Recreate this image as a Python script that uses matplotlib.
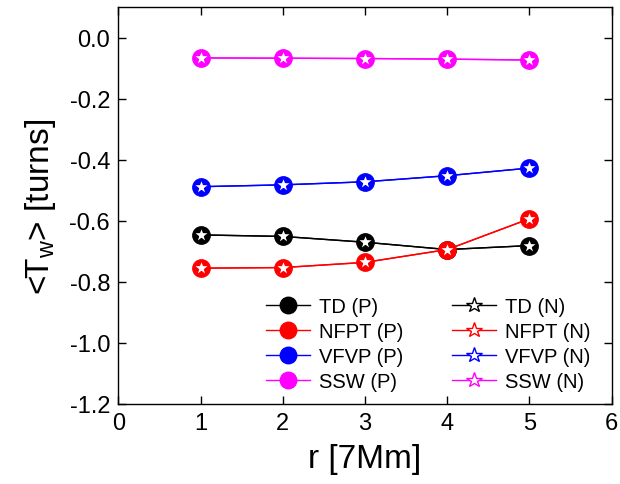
import matplotlib
matplotlib.use("Agg")
import matplotlib.pyplot as plt

plt.rcParams["font.family"] = ["Liberation Sans", "DejaVu Sans"]
plt.rcParams["mathtext.fontset"] = "custom"
plt.rcParams["mathtext.rm"] = "Liberation Sans"
plt.rcParams["mathtext.it"] = "Liberation Sans:italic"

# ---- data ----
r = [1, 2, 3, 4, 5]

td_p = [-0.646, -0.651, -0.670, -0.694, -0.681]
td_n = [-0.646, -0.651, -0.670, -0.694, -0.681]
nfpt_p = [-0.755, -0.753, -0.736, -0.694, -0.593]
nfpt_n = [-0.755, -0.753, -0.736, -0.694, -0.593]
vfvp_p = [-0.488, -0.482, -0.472, -0.452, -0.427]
vfvp_n = [-0.488, -0.482, -0.472, -0.452, -0.427]
ssw_p = [-0.066, -0.067, -0.068, -0.070, -0.073]
ssw_n = [-0.066, -0.067, -0.068, -0.070, -0.073]

names = ["TD", "NFPT", "VFVP", "SSW"]
colors = ["black", "#ff0000", "#0000ff", "#ff00ff"]
p_series = [td_p, nfpt_p, vfvp_p, ssw_p]
n_series = [td_n, nfpt_n, vfvp_n, ssw_n]

fig = plt.figure(figsize=(6.2, 4.85), dpi=100)
ax = fig.add_axes([0.191, 0.165, 0.7956, 0.818])

p_handles = []
n_handles = []
for name, col, yp, yn in zip(names, colors, p_series, n_series):
    hp, = ax.plot(r, yp, "-o", color=col, lw=1.0, ms=12.5, mec=col,
                  label=f"{name} (P)")
    hn, = ax.plot(r, yn, "-*", color=col, lw=1.0, ms=12, mfc="white",
                  mec=col, mew=1.0, label=f"{name} (N)")
    p_handles.append(hp)
    n_handles.append(hn)

ax.set_xlim(0, 6)
ax.set_ylim(-1.2, 0.1)
ax.set_xticks(range(0, 7))
ax.set_yticks([0.0, -0.2, -0.4, -0.6, -0.8, -1.0, -1.2])
ax.set_yticklabels(["0.0", "-0.2", "-0.4", "-0.6", "-0.8", "-1.0", "-1.2"])
ax.tick_params(direction="in", top=True, right=True, length=5.5, width=1.0,
               labelsize=17, pad=6)
for s in ax.spines.values():
    s.set_linewidth(1.0)

ax.set_xlabel("r [7Mm]", fontsize=24, labelpad=6)
ax.set_ylabel(r"<T$_\mathrm{w}$> [turns]", fontsize=24, labelpad=8)

leg = ax.legend(p_handles + n_handles,
                [h.get_label() for h in p_handles + n_handles],
                ncol=2, frameon=False, fontsize=14.5, loc="center",
                bbox_to_anchor=(0.628, 0.152), handlelength=2.2,
                handletextpad=0.45, columnspacing=2.4, labelspacing=0.3,
                borderpad=0.2, markerscale=0.95)

fig.savefig("out.png", dpi=100)
